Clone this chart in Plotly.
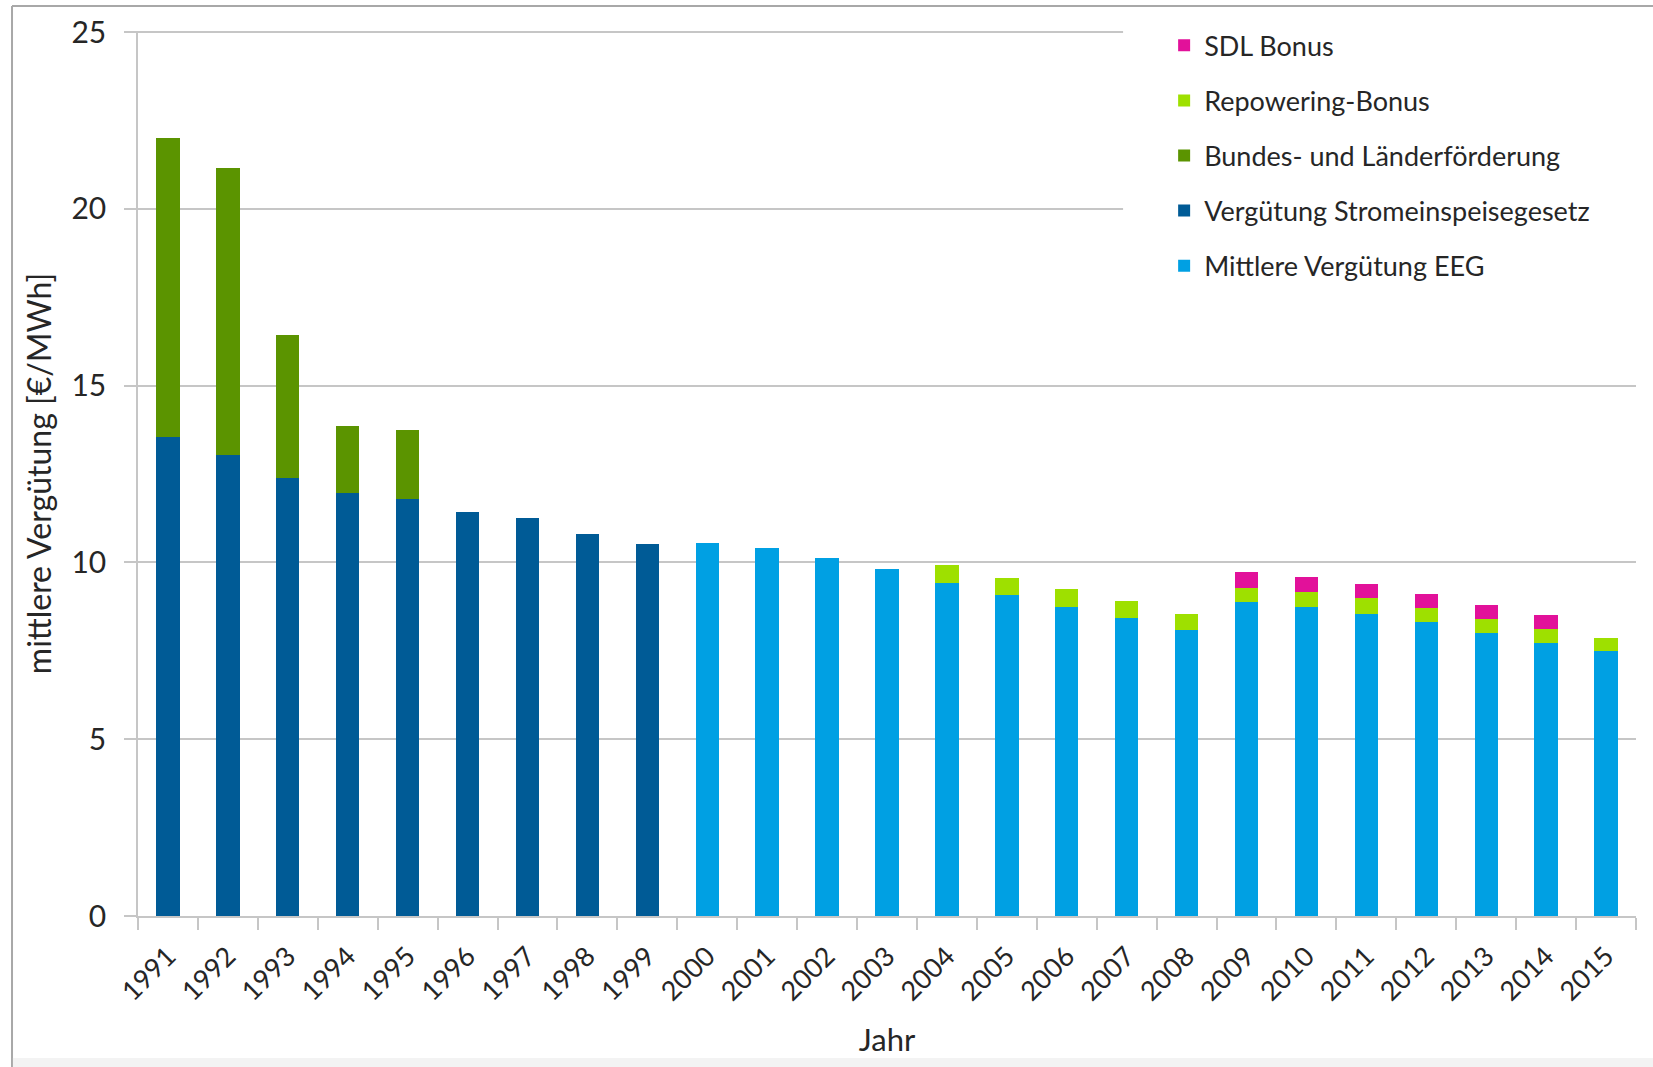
import plotly.graph_objects as go

# Mean remuneration for wind power per year, in €/MWh, split by component
years = [str(y) for y in range(1991, 2016)]

# Vergütung nach Stromeinspeisegesetz (1991-1999)
streg = [13.55, 13.03, 12.40, 11.95, 11.78, 11.44, 11.25, 10.79, 10.53] + [None] * 16
# Bundes- und Länderförderung (1991-1995)
foerderung = [8.45, 8.12, 4.03, 1.91, 1.96] + [None] * 20
# Mittlere Vergütung EEG (2000-2015)
eeg = [None] * 9 + [10.56, 10.40, 10.12, 9.82, 9.42, 9.07, 8.74, 8.43, 8.10,
                    8.88, 8.75, 8.55, 8.31, 8.01, 7.73, 7.49]
# Repowering-Bonus (2004-2015)
repowering = [None] * 13 + [0.52, 0.50, 0.50, 0.49, 0.43, 0.40, 0.41, 0.43,
                            0.41, 0.40, 0.39, 0.38]
# SDL Bonus (2009-2014)
sdl = [None] * 18 + [0.46, 0.44, 0.42, 0.39, 0.40, 0.38, None]

y_ticks = [0, 5, 10, 15, 20, 25]

FONT = "Lato"
TEXT = "#262626"
GRID = "#c6c6c6"
FRAME = "#a8a8a8"

# stacking order bottom -> top; legend lists them top -> bottom
series = [
    ("Mittlere Vergütung EEG", eeg, "#00a0e3"),
    ("Vergütung Stromeinspeisegesetz", streg, "#005b96"),
    ("Bundes- und Länderförderung", foerderung, "#5b9400"),
    ("Repowering-Bonus", repowering, "#9ee000"),
    ("SDL Bonus", sdl, "#e2119a"),
]

fig = go.Figure()
for i, (name, vals, color) in enumerate(series):
    fig.add_trace(go.Bar(
        x=years, y=vals, name=name, legendgroup=name,
        legendrank=1000 - i,
        marker=dict(color=color, line=dict(width=0)),
    ))

fig.update_layout(
    width=1653, height=1067,
    margin=dict(l=138, r=17, t=31, b=151),
    barmode="stack",
    bargap=0.61,
    paper_bgcolor="white",
    plot_bgcolor="rgba(0,0,0,0)",
    font=dict(family=FONT, color=TEXT, size=24),
    showlegend=True,
    legend=dict(
        x=0.685, y=1.011, xanchor="left", yanchor="top",
        traceorder="grouped", tracegroupgap=17,
        bgcolor="rgba(0,0,0,0)", borderwidth=0,
        font=dict(family=FONT, size=27, color=TEXT),
        itemwidth=30,
    ),
    shapes=[
        # frame: top and left edges
        dict(type="line", xref="paper", yref="paper",
             x0=-0.0841, x1=1.02, y0=1.0282, y1=1.0282,
             line=dict(color=FRAME, width=2)),
        dict(type="line", xref="paper", yref="paper",
             x0=-0.0841, x1=-0.0841, y0=-0.1706, y1=1.0282,
             line=dict(color=FRAME, width=2)),
        # light strip along the bottom edge
        dict(type="rect", xref="paper", yref="paper",
             x0=-0.0835, x1=1.02, y0=-0.1706, y1=-0.1605,
             line=dict(width=0), fillcolor="#f3f3f3"),
        # white backing behind the legend
        dict(type="rect", xref="paper", yref="paper",
             x0=0.6576, x1=1.02, y0=0.707, y1=1.01,
             line=dict(width=0), fillcolor="white", layer="above"),
    ],
)

fig.update_xaxes(
    type="category",
    showgrid=False,
    showline=True, linecolor=GRID, linewidth=1.5,
    ticks="outside", tickson="boundaries", ticklen=12,
    tickcolor=GRID, tickwidth=1.5,
    tickangle=-45,
    ticklabelstandoff=12,
    tickfont=dict(family=FONT, size=27, color=TEXT),
    title=dict(text="Jahr", font=dict(family=FONT, size=31, color=TEXT), standoff=24),
)

fig.update_yaxes(
    range=[0, 25.03],
    tickvals=y_ticks,
    showgrid=True, gridcolor=GRID, gridwidth=1.5,
    showline=True, linecolor=GRID, linewidth=1.5,
    ticks="outside", ticklen=12, tickcolor=GRID, tickwidth=1.5,
    ticklabelstandoff=12,
    zeroline=False,
    tickfont=dict(family=FONT, size=30, color=TEXT),
    title=dict(text="mittlere Vergütung [€/MWh]",
               font=dict(family=FONT, size=32, color=TEXT), standoff=10),
)

fig.write_html("out.html")
